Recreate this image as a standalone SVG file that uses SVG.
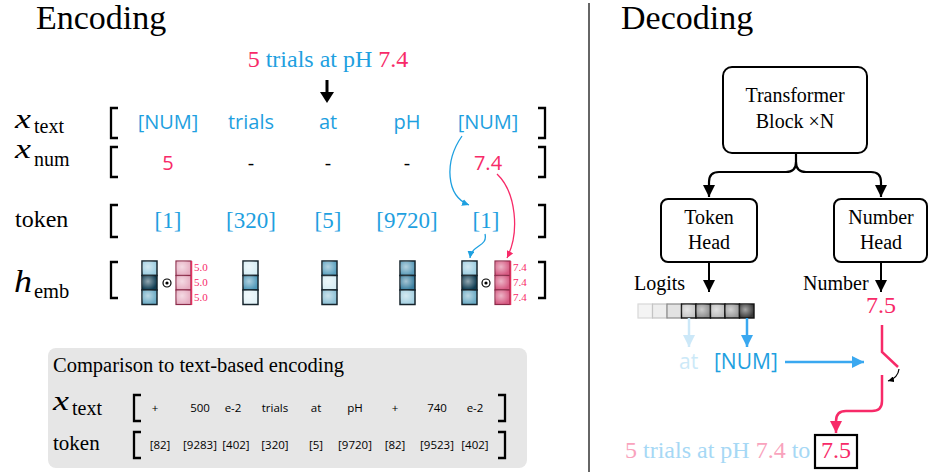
<svg xmlns="http://www.w3.org/2000/svg" width="929" height="472" viewBox="0 0 929 472">
<style>
.serif{font-family:"Liberation Serif","Times New Roman",serif}
.sans{font-family:"Open Sans","Noto Sans",sans-serif}
.blue{fill:#1ea0e0}
.pink{fill:#f72a68}
.lpink{fill:#f9a3bd}
.lblue{fill:#a6d8f5}
.brk{fill:none;stroke:#000;stroke-width:2.3}
.box{fill:#fff;stroke:#000;stroke-width:2}
.cell{stroke:#15232b;stroke-width:1.5}
.pcell{stroke:#8a2a48;stroke-width:1.2}
.shine{fill:url(#shine);stroke:none}
.lbl{font-size:11px}
.row{font-size:20px;text-anchor:middle}
.tok{font-size:23px;text-anchor:middle}
.cmp{font-size:11.5px;text-anchor:middle}
.mid{text-anchor:middle}
</style>
<defs>
<radialGradient id="shine" cx="0.4" cy="0.4" r="0.6">
<stop offset="0" stop-color="#fff" stop-opacity="0.55"/>
<stop offset="1" stop-color="#fff" stop-opacity="0"/>
</radialGradient>
<marker id="ak" viewBox="0 0 10 10" refX="10" refY="5" markerWidth="12" markerHeight="12" orient="auto" markerUnits="userSpaceOnUse"><path d="M0,0 L10,5 L0,10 z" fill="#000"/></marker>
<marker id="akS" viewBox="0 0 10 10" refX="10" refY="5" markerWidth="6" markerHeight="6" orient="auto" markerUnits="userSpaceOnUse"><path d="M0,0 L10,5 L0,10 z" fill="#000"/></marker>
<marker id="ab" viewBox="0 0 10 10" refX="10" refY="5" markerWidth="12" markerHeight="12" orient="auto" markerUnits="userSpaceOnUse"><path d="M0,0 L10,5 L0,10 z" fill="#3aa8f0"/></marker>
<marker id="alb" viewBox="0 0 10 10" refX="10" refY="5" markerWidth="12" markerHeight="12" orient="auto" markerUnits="userSpaceOnUse"><path d="M0,0 L10,5 L0,10 z" fill="#cce8f8"/></marker>
<marker id="ap" viewBox="0 0 10 10" refX="10" refY="5" markerWidth="12" markerHeight="12" orient="auto" markerUnits="userSpaceOnUse"><path d="M0,0 L10,5 L0,10 z" fill="#f72a68"/></marker>
<marker id="abS" viewBox="0 0 10 10" refX="10" refY="5" markerWidth="7" markerHeight="7" orient="auto" markerUnits="userSpaceOnUse"><path d="M0,0 L10,5 L0,10 z" fill="#1ea0e0"/></marker>
<marker id="apS" viewBox="0 0 10 10" refX="10" refY="5" markerWidth="7" markerHeight="7" orient="auto" markerUnits="userSpaceOnUse"><path d="M0,0 L10,5 L0,10 z" fill="#f72a68"/></marker>
</defs>
<rect width="929" height="472" fill="#fff"/>

<!-- Titles and divider -->
<text class="serif" x="36" y="29" font-size="34">Encoding</text>
<text class="serif" x="621" y="29" font-size="34">Decoding</text>
<line x1="589" y1="3" x2="589" y2="472" stroke="#333" stroke-width="1.5"/>

<!-- Encoding input sentence -->
<g id="input-sentence">
<text class="serif mid" x="328" y="67" font-size="24"><tspan class="pink">5</tspan><tspan class="blue"> trials at pH </tspan><tspan class="pink">7.4</tspan></text>
<line x1="327" y1="80" x2="327" y2="95" stroke="#000" stroke-width="3"/>
<polygon points="320,92 334,92 327,103" fill="#000"/>
</g>

<!-- Row labels -->
<g id="row-labels" class="serif">
<text x="15" y="128" font-size="28" font-style="italic" textLength="16" lengthAdjust="spacingAndGlyphs">x</text><text x="34" y="133" font-size="20">text</text>
<text x="15" y="158" font-size="28" font-style="italic" textLength="16" lengthAdjust="spacingAndGlyphs">x</text><text x="34" y="166" font-size="20">num</text>
<text x="15" y="227" font-size="24">token</text>
<text x="14" y="292" font-size="32" font-style="italic" textLength="18" lengthAdjust="spacingAndGlyphs">h</text><text x="34" y="298" font-size="20.5">emb</text>
</g>

<!-- Brackets -->
<g id="brackets">
<path class="brk" d="M118,108 H111 V138 H118 M538,108 H545 V138 H538"/>
<path class="brk" d="M118,147 H111 V177 H118 M538,147 H545 V177 H538"/>
<path class="brk" d="M118,205 H111 V237 H118 M538,205 H545 V237 H538"/>
<path class="brk" d="M118,262 H111 V298 H118 M538,262 H545 V298 H538"/>
</g>

<!-- x_text row -->
<g id="x-text-row" class="sans blue row">
<text x="168" y="129">[NUM]</text>
<text x="251" y="129">trials</text>
<text x="328" y="129">at</text>
<text x="407" y="129">pH</text>
<text x="488" y="129">[NUM]</text>
</g>

<!-- x_num row -->
<g id="x-num-row" class="sans row">
<text x="168" y="170" class="pink">5</text>
<text x="251" y="170">-</text>
<text x="328" y="170">-</text>
<text x="407" y="170">-</text>
<text x="488" y="170" class="pink">7.4</text>
</g>

<!-- token row -->
<g id="token-row" class="serif blue tok">
<text x="168" y="228">[1]</text>
<text x="251" y="228">[320]</text>
<text x="328" y="228">[5]</text>
<text x="407" y="228">[9720]</text>
<text x="486" y="228">[1]</text>
</g>

<!-- h_emb row -->
<g id="emb-1">
<rect class="cell" x="142" y="261" width="15" height="14.5" fill="#9ccde0"/><rect class="shine" x="142" y="261" width="15" height="14.5"/>
<rect class="cell" x="142" y="275.5" width="15" height="14.5" fill="#0e3c52"/><rect class="shine" x="142" y="275.5" width="15" height="14.5"/>
<rect class="cell" x="142" y="290" width="15" height="14.5" fill="#6aaac4"/><rect class="shine" x="142" y="290" width="15" height="14.5"/>
<circle cx="167" cy="283" r="4" fill="none" stroke="#000" stroke-width="1.2"/><circle cx="167" cy="283" r="1.6" fill="#000"/>
<rect class="pcell" x="176" y="261" width="15" height="14.5" fill="#e6aec2"/><rect class="shine" x="176" y="261" width="15" height="14.5"/>
<rect class="pcell" x="176" y="275.5" width="15" height="14.5" fill="#e6aec2"/><rect class="shine" x="176" y="275.5" width="15" height="14.5"/>
<rect class="pcell" x="176" y="290" width="15" height="14.5" fill="#e6aec2"/><rect class="shine" x="176" y="290" width="15" height="14.5"/>
<line x1="191.5" y1="261" x2="191.5" y2="305" stroke="#e0305f" stroke-width="1.5"/>
<text class="serif pink lbl" x="194" y="271">5.0</text>
<text class="serif pink lbl" x="194" y="286">5.0</text>
<text class="serif pink lbl" x="194" y="301">5.0</text>
</g>
<g id="emb-2">
<rect class="cell" x="243" y="261" width="15" height="14.5" fill="#d6edf4"/><rect class="shine" x="243" y="261" width="15" height="14.5"/>
<rect class="cell" x="243" y="275.5" width="15" height="14.5" fill="#4f98b8"/><rect class="shine" x="243" y="275.5" width="15" height="14.5"/>
<rect class="cell" x="243" y="290" width="15" height="14.5" fill="#e2f2f7"/><rect class="shine" x="243" y="290" width="15" height="14.5"/>
</g>
<g id="emb-3">
<rect class="cell" x="322" y="261" width="15" height="14.5" fill="#5aa0be"/><rect class="shine" x="322" y="261" width="15" height="14.5"/>
<rect class="cell" x="322" y="275.5" width="15" height="14.5" fill="#d8eef5"/><rect class="shine" x="322" y="275.5" width="15" height="14.5"/>
<rect class="cell" x="322" y="290" width="15" height="14.5" fill="#8cc0d5"/><rect class="shine" x="322" y="290" width="15" height="14.5"/>
</g>
<g id="emb-4">
<rect class="cell" x="400" y="261" width="15" height="14.5" fill="#5a9ab8"/><rect class="shine" x="400" y="261" width="15" height="14.5"/>
<rect class="cell" x="400" y="275.5" width="15" height="14.5" fill="#3a7fa0"/><rect class="shine" x="400" y="275.5" width="15" height="14.5"/>
<rect class="cell" x="400" y="290" width="15" height="14.5" fill="#a4d0e1"/><rect class="shine" x="400" y="290" width="15" height="14.5"/>
</g>
<g id="emb-5">
<rect class="cell" x="462" y="261" width="15" height="14.5" fill="#9ccde0"/><rect class="shine" x="462" y="261" width="15" height="14.5"/>
<rect class="cell" x="462" y="275.5" width="15" height="14.5" fill="#0e3c52"/><rect class="shine" x="462" y="275.5" width="15" height="14.5"/>
<rect class="cell" x="462" y="290" width="15" height="14.5" fill="#6aaac4"/><rect class="shine" x="462" y="290" width="15" height="14.5"/>
<circle cx="486" cy="283" r="4" fill="none" stroke="#000" stroke-width="1.2"/><circle cx="486" cy="283" r="1.6" fill="#000"/>
<rect class="pcell" x="495" y="261" width="15" height="14.5" fill="#d65a82"/><rect class="shine" x="495" y="261" width="15" height="14.5"/>
<rect class="pcell" x="495" y="275.5" width="15" height="14.5" fill="#d65a82"/><rect class="shine" x="495" y="275.5" width="15" height="14.5"/>
<rect class="pcell" x="495" y="290" width="15" height="14.5" fill="#d65a82"/><rect class="shine" x="495" y="290" width="15" height="14.5"/>
<line x1="510.5" y1="261" x2="510.5" y2="305" stroke="#e0305f" stroke-width="1.5"/>
<text class="serif pink lbl" x="513" y="271">7.4</text>
<text class="serif pink lbl" x="513" y="286">7.4</text>
<text class="serif pink lbl" x="513" y="301">7.4</text>
</g>

<!-- Comparison box -->
<g id="comparison">
<rect x="48" y="348" width="479" height="120" rx="8" fill="#e6e6e6"/>
<text class="serif" x="53" y="372" font-size="20.5">Comparison to text-based encoding</text>
<text class="serif" x="53" y="410" font-size="28" font-style="italic" textLength="16" lengthAdjust="spacingAndGlyphs">x</text><text class="serif" x="72" y="415" font-size="20">text</text>
<text class="serif" x="53" y="450" font-size="21">token</text>
<path class="brk" d="M141,395 H134 V421 H141 M498,395 H505 V421 H498"/>
<path class="brk" d="M141,432 H134 V458 H141 M498,432 H505 V458 H498"/>
<g class="sans cmp">
<text x="155" y="412">+</text><text x="200" y="412">500</text><text x="233" y="412">e-2</text><text x="275" y="412">trials</text><text x="316" y="412">at</text><text x="355" y="412">pH</text><text x="395" y="412">+</text><text x="437" y="412">740</text><text x="475" y="412">e-2</text>
<text x="160" y="449">[82]</text><text x="200" y="449">[9283]</text><text x="236" y="449">[402]</text><text x="275" y="449">[320]</text><text x="316" y="449">[5]</text><text x="355" y="449">[9720]</text><text x="395" y="449">[82]</text><text x="437" y="449">[9523]</text><text x="475" y="449">[402]</text>
</g>
</g>

<!-- Decoding nodes -->
<g id="transformer">
<rect class="box" x="723" y="67" width="144" height="86" rx="9"/>
<text class="serif mid" x="795" y="102" font-size="20">Transformer</text>
<text class="serif mid" x="795" y="128" font-size="20">Block ×N</text>
</g>
<g id="token-head">
<rect class="box" x="661" y="199" width="96" height="63" rx="7"/>
<text class="serif mid" x="709" y="224" font-size="20">Token</text>
<text class="serif mid" x="709" y="249" font-size="20">Head</text>
</g>
<g id="number-head">
<rect class="box" x="834" y="199" width="93" height="63" rx="7"/>
<text class="serif mid" x="881" y="224" font-size="20">Number</text>
<text class="serif mid" x="881" y="249" font-size="20">Head</text>
</g>
<g id="logits">
<text class="serif" x="634" y="290" font-size="20">Logits</text>
<rect x="638" y="304" width="14.5" height="14" fill="#f4f4f4" stroke="#d8d8d8" stroke-width="1.2"/>
<rect x="652.5" y="304" width="14.5" height="14" fill="#eeeeee" stroke="#c4c4c4" stroke-width="1.2"/>
<rect x="667" y="304" width="14.5" height="14" fill="#e2e2e2" stroke="#8a8a8a" stroke-width="1.2"/>
<rect x="681.5" y="304" width="14.5" height="14" fill="#c6c6c6" stroke="#111" stroke-width="1.4"/>
<rect x="696" y="304" width="14.5" height="14" fill="#8e8e8e" stroke="#111" stroke-width="1.4"/>
<rect x="710.5" y="304" width="14.5" height="14" fill="#bcbcbc" stroke="#111" stroke-width="1.4"/>
<rect x="725" y="304" width="14.5" height="14" fill="#9a9a9a" stroke="#111" stroke-width="1.4"/>
<rect x="739.5" y="304" width="14.5" height="14" fill="#3a3a3a" stroke="#111" stroke-width="1.4"/>
<rect class="shine" x="681.5" y="304" width="14.5" height="14"/><rect class="shine" x="696" y="304" width="14.5" height="14"/><rect class="shine" x="710.5" y="304" width="14.5" height="14"/><rect class="shine" x="725" y="304" width="14.5" height="14"/><rect class="shine" x="739.5" y="304" width="14.5" height="14"/>
</g>
<g id="number-out">
<text class="serif" x="803" y="290" font-size="20">Number</text>
<text class="serif pink mid" x="881" y="313" font-size="24">7.5</text>
</g>
<g id="token-out" class="sans">
<text x="679" y="369" font-size="21" style="fill:#cce9f8">at</text>
<text class="blue" x="714" y="369" font-size="21">[NUM]</text>
</g>
<g id="output-sentence">
<text class="serif" x="625" y="458" font-size="24"><tspan class="lpink">5</tspan><tspan class="lblue"> trials at pH </tspan><tspan class="lpink">7.4</tspan><tspan class="lblue"> to</tspan></text>
<rect x="815" y="435" width="42" height="33" fill="none" stroke="#000" stroke-width="2.2"/>
<text class="serif pink mid" x="836" y="458" font-size="24">7.5</text>
</g>

<!-- Connectors -->
<g id="connectors" fill="none">
<path d="M462,136 C444,162 446,196 469,205" stroke="#1ea0e0" stroke-width="1.3" marker-end="url(#abS)"/>
<path d="M497,174 C516,192 520,232 507,258" stroke="#f72a68" stroke-width="1.3" marker-end="url(#apS)"/>
<path d="M485,234 C488,247 472,244 470,258" stroke="#1ea0e0" stroke-width="1.3" marker-end="url(#abS)"/>
<path d="M796,153 V162 Q796,172 786,172 H719 Q709,172 709,182 V197" stroke="#000" stroke-width="2.2" marker-end="url(#ak)"/>
<path d="M796,162 Q796,172 806,172 H871 Q881,172 881,182 V197" stroke="#000" stroke-width="2.2" marker-end="url(#ak)"/>
<path d="M709,262 V292" stroke="#000" stroke-width="2" marker-end="url(#ak)"/>
<path d="M881,262 V292" stroke="#000" stroke-width="2" marker-end="url(#ak)"/>
<path d="M689,318 V347" stroke="#cce8f8" stroke-width="2.5" marker-end="url(#alb)"/>
<path d="M747,318 V347" stroke="#3aa8f0" stroke-width="2.5" marker-end="url(#ab)"/>
<path d="M785,362 H864" stroke="#3aa8f0" stroke-width="2.5" marker-end="url(#ab)"/>
<path d="M882,325 V352 L898,367" stroke="#f72a68" stroke-width="2.5"/>
<path d="M882,375 V401 Q882,411 872,411 H846 Q836,411 836,421 V433" stroke="#f72a68" stroke-width="2.5" marker-end="url(#ap)"/>
<path d="M899,369 Q898,378 888,381" stroke="#000" stroke-width="1.2" marker-end="url(#akS)"/>
</g>
</svg>
